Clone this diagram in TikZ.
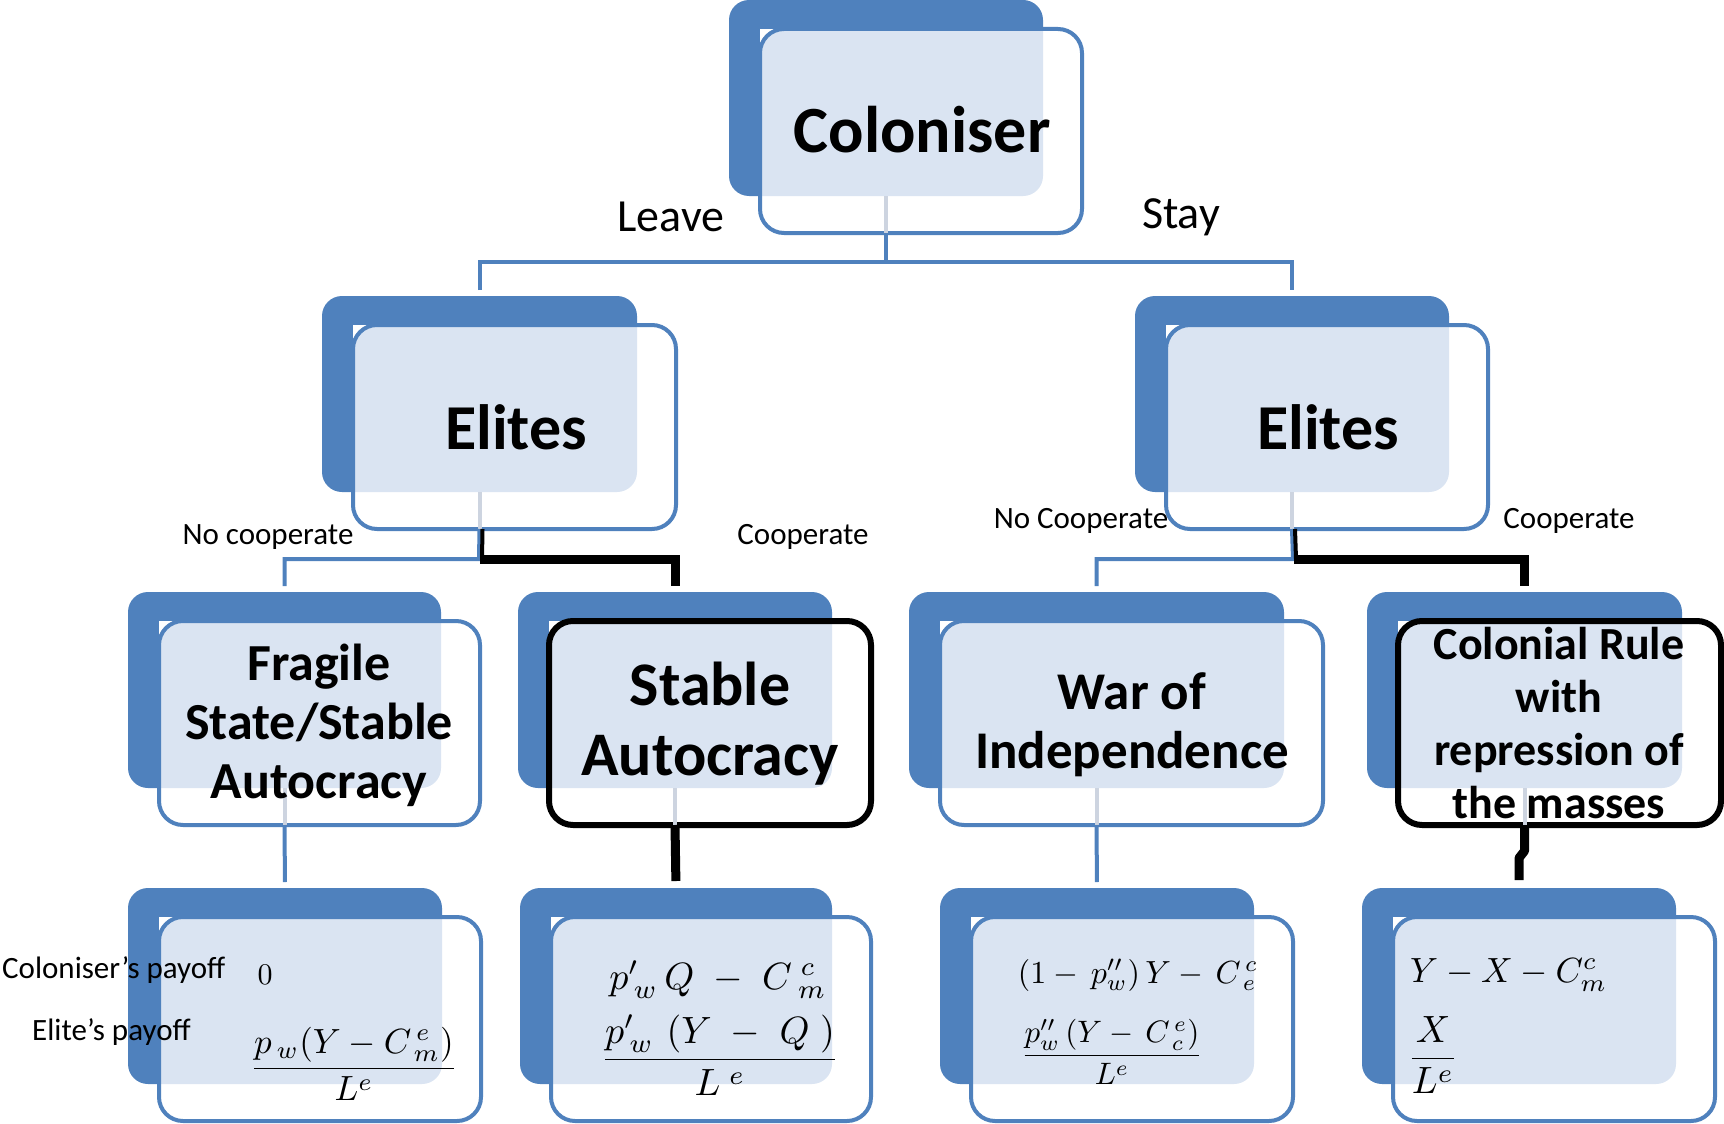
\documentclass[tikz,border=0pt]{standalone}
\usepackage{amsmath}
\usepackage{graphicx}
\usepackage[no-math]{fontspec}
\setmainfont{Carlito}
\usetikzlibrary{calc}
\definecolor{boxblue}{RGB}{79,129,189}
\definecolor{lightfill}{RGB}{218,228,242}
\definecolor{faint}{RGB}{205,212,224}
\tikzset{
  backbox/.style={fill=boxblue, rounded corners=20pt, inner sep=0pt, outer sep=0pt, anchor=north west, minimum height=196pt},
  frontshape/.style={fill=white, inner sep=0pt, outer sep=0pt, anchor=north west, minimum height=204pt},
  frontline/.style={draw=boxblue, line width=4pt},
  boldline/.style={draw=black, line width=6pt},
  blueline/.style={draw=boxblue, line width=4pt},
  blackline/.style={draw=black, line width=9pt},
  faintline/.style={draw=faint, line width=4pt},
  lbl/.style={inner sep=0pt, font=\fontsize{31}{36}\selectfont},
  biglbl/.style={inner sep=0pt, font=\fontsize{46}{52}\selectfont},
  title/.style={inner sep=0pt, align=center},
  mathlbl/.style={inner sep=0pt, font=\fontsize{10}{12}\selectfont},
}
\newcommand\dualbox[5]{%
  \node[backbox, minimum width={#4pt}] (#1-b) at (#2,#3) {};
  \node[frontshape, minimum width={#4pt+8pt}] (#1-f) at ({#2+31},{#3+29}) {};
  \begin{scope}
    \clip[rounded corners=20pt] (#1-b.south west) rectangle (#1-b.north east);
    \fill[lightfill, rounded corners=24pt] (#1-f.south west) rectangle (#1-f.north east);
  \end{scope}
  \draw[#5, rounded corners=24pt] (#1-f.south west) rectangle (#1-f.north east);
}
\begin{document}
\begin{tikzpicture}[x=1pt, y=-1pt]
\useasboundingbox (0,0) rectangle (1724,1124);

% boxes
\dualbox{col}{729}{0}{314}{frontline}
\dualbox{elL}{322}{296}{315}{frontline}
\dualbox{elR}{1135}{296}{314}{frontline}
\dualbox{frag}{128}{592}{313}{frontline}
\dualbox{stab}{518}{592}{314}{boldline}
\dualbox{war}{909}{592}{375}{frontline}
\dualbox{colr}{1367}{592}{315}{boldline}
\dualbox{payA}{128}{888}{314}{frontline}
\dualbox{payB}{520}{888}{312}{frontline}
\dualbox{payC}{940}{888}{314}{frontline}
\dualbox{payD}{1362}{888}{314}{frontline}

% faint strips inside the front boxes
\foreach \n in {col,elL,elR,frag,stab,war,colr}{
  \draw[faintline] (\n-b.center |- \n-b.south) -- (\n-b.center |- \n-f.south);
}

% connectors: coloniser -> elites
\coordinate (j0) at (886,262);
\draw[blueline] (col-b.center |- col-f.south) -- (j0);
\draw[blueline, shorten <=6pt, shorten >=6pt] (elL-b.north) |- (j0) -| (elR-b.north);

% elites left -> children
\coordinate (j1) at (479,559);
\draw[blueline, shorten <=6pt] (frag-b.north) |- (j1) -- (elL-b.center |- elL-f.south);
\draw[black, line width=4pt] ($(j1)+(3,0)$) -- ($(elL-b.center |- elL-f.south)+(3,0)$);
\draw[blackline, shorten >=6pt] ($(j1)+(1,0)$) -| (stab-b.north);

% elites right -> children
\coordinate (j2) at (1293,559);
\draw[blueline, shorten <=6pt] (war-b.north) |- (j2) -- (elR-b.center |- elR-f.south);
\draw[black, line width=4pt] ($(j2)+(3,0)$) -- ($(elR-b.center |- elR-f.south)+(3,0)$);
\draw[blackline, shorten >=6pt] ($(j2)+(1,0)$) -| (colr-b.north);

% level 3 -> payoffs
\draw[blueline, shorten >=6pt] (frag-b.center |- frag-f.south) -- (payA-b.north);
\draw[blackline, shorten >=7pt] (stab-b.center |- stab-f.south) -- (payB-b.north);
\draw[blueline, shorten >=6pt] (war-b.center |- war-f.south) -- (payC-b.north);
\draw[blackline, line join=round] (colr-b.center |- colr-f.south) -- ++(0,26) -- ($(payD-b.north)+(0,-30)$) -- ($(payD-b.north)+(0,-8)$);

% titles
\node[title, font=\bfseries\fontsize{66}{70}\selectfont] (t-col) at (922,130) {Coloniser};
\node[title, font=\bfseries\fontsize{64}{70}\selectfont] (t-elL) at (516,427) {Elites};
\node[title, font=\bfseries\fontsize{64}{70}\selectfont] (t-elR) at (1328,427) {Elites};
\node[title, font=\bfseries\fontsize{52}{59}\selectfont] (t-frag) at (319,725) {Fragile\\State/Stable\\Autocracy};
\node[title, font=\bfseries\fontsize{62}{70}\selectfont] (t-stab) at (710,724) {Stable\\Autocracy};
\node[title, font=\bfseries\fontsize{53}{59}\selectfont] (t-war) at (1132,725) {War of\\Independence};
\node[title, font=\bfseries\fontsize{46}{53}\selectfont] (t-colr) at (1559,723) {Colonial Rule\\with\\repression of\\the masses};

% branch labels
\node[biglbl] (l-leave) at (671,217) {Leave};
\node[biglbl] (l-stay) at (1181,217) {Stay};
\node[lbl] (l-nc1) at (268,537) {No cooperate};
\node[lbl] (l-c1) at (803,537) {Cooperate};
\node[lbl] (l-nc2) at (1081,521) {No Cooperate};
\node[lbl] (l-c2) at (1569,521) {Cooperate};
\node[lbl, anchor=west] (l-colpay) at (2,970) {Coloniser’s payoff};
\node[lbl, anchor=west] (l-elpay) at (32,1032) {Elite’s payoff};

% payoffs
\node[mathlbl] (m-a1) at (265,975) {\scalebox{3}{$0$}};
\node[mathlbl] (m-a2) at (354,1064) {\scalebox{3.5}{$\dfrac{p_{\,w}\!\left(Y - C^{\,e}_{\,m}\right)}{L^{e}}$}};

\node[mathlbl] (m-b1) at (718,980) {\scalebox{3.8}{$p'_{\,w}\,Q\;-\;C^{\;c}_{\;m}$}};
\node[mathlbl] (m-b2) at (720,1055) {\scalebox{3.8}{$\dfrac{p'_{\,w}\,\left(Y\;-\;Q\;\right)}{L^{\;e}}$}};

\node[mathlbl] (m-c1) at (1138,975) {\scalebox{3.2}{$\left(1-\,p''_{w}\right)Y-\,C^{\,c}_{\,e}$}};
\node[mathlbl] (m-c2) at (1112,1052) {\scalebox{3.1}{$\dfrac{p''_{w}\left(Y-\,C^{\,e}_{\,c}\right)}{L^{e}}$}};

\node[mathlbl, anchor=west] (m-d1) at (1410,975) {\scalebox{3.5}{$Y-X-C^{c}_{m}$}};
\node[mathlbl] (m-d2) at (1433,1055) {\scalebox{3.8}{$\dfrac{X}{L^{e}}$}};
\end{tikzpicture}
\end{document}
